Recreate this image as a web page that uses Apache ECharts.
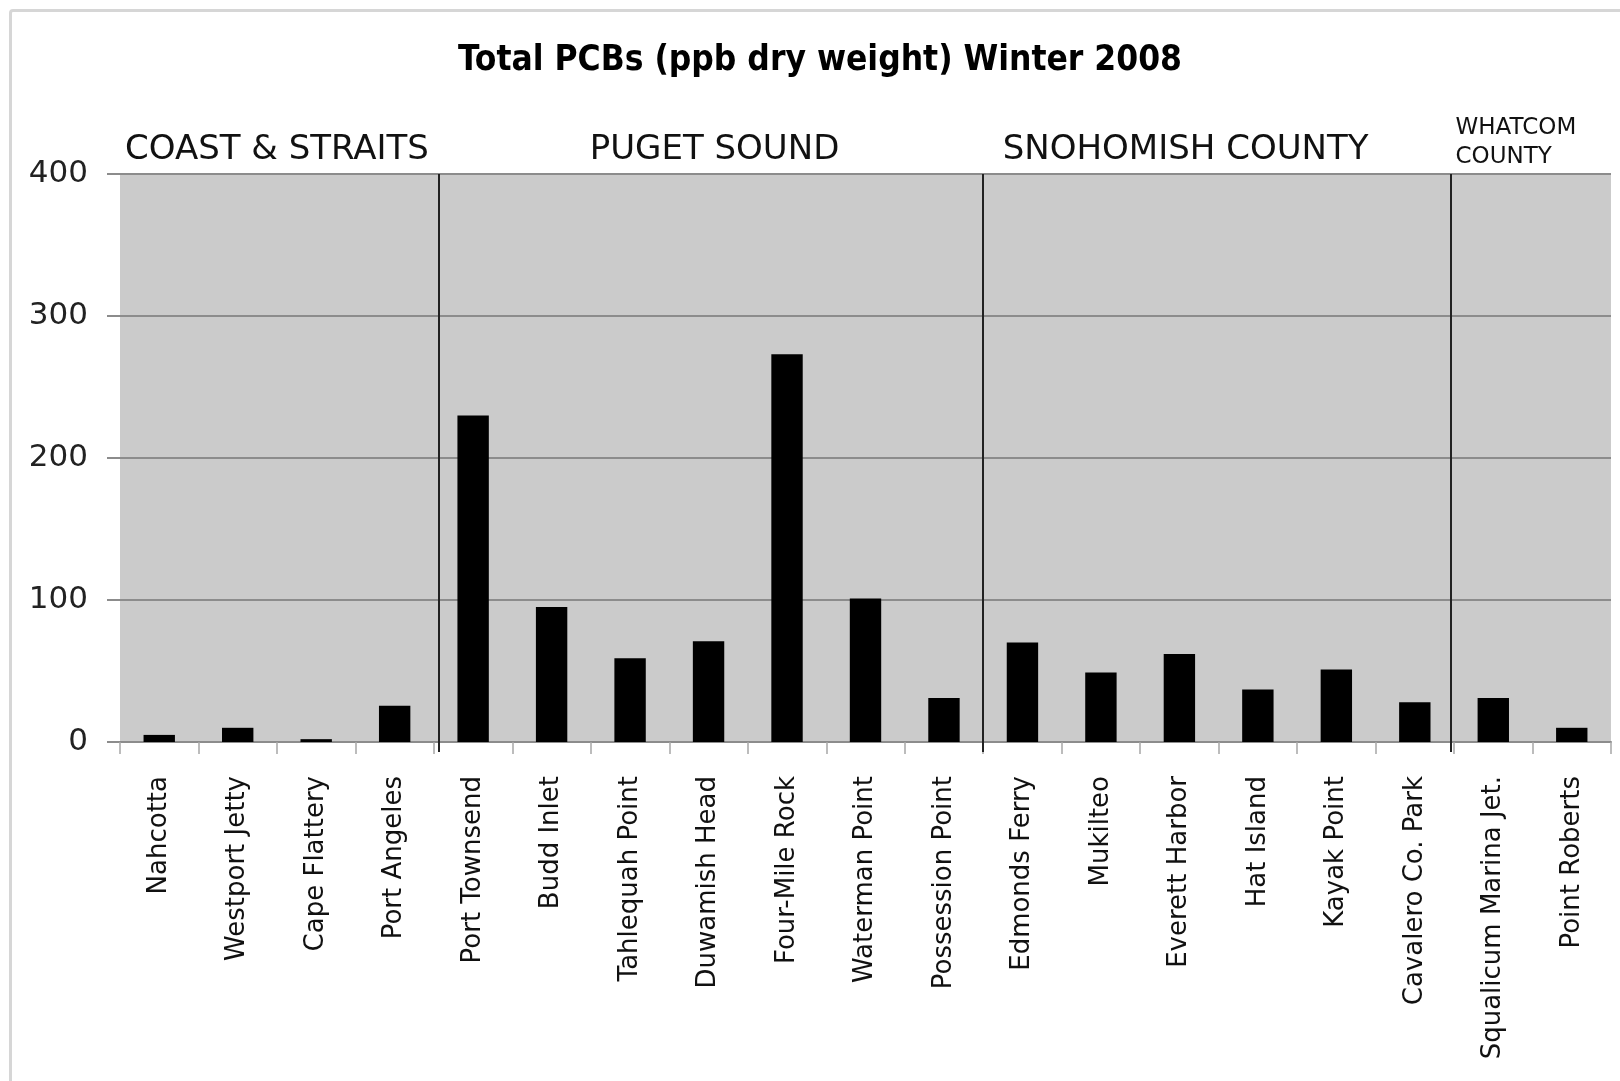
<!DOCTYPE html>
<html>
<head>
<meta charset="utf-8">
<title>Total PCBs Winter 2008</title>
<script src="https://cdn.jsdelivr.net/npm/echarts@6/dist/echarts.min.js"></script>
<style>
  html, body { margin: 0; padding: 0; background: #fff; overflow: hidden; }
  #frame {
    position: absolute; left: 9px; top: 9px; width: 1700px; height: 1200px;
    border: 3px solid #d6d6d6; border-radius: 4px; box-sizing: border-box;
  }
  #chart { position: absolute; left: 0; top: 0; width: 1620px; height: 1081px; }
</style>
</head>
<body>
<div id="frame"></div>
<div id="chart"></div>
<script>
// sites in plotting order
const sites = [
  'Nahcotta', 'Westport Jetty', 'Cape Flattery', 'Port Angeles',
  'Port Townsend', 'Budd Inlet', 'Tahlequah Point', 'Duwamish Head',
  'Four-Mile Rock', 'Waterman Point', 'Possession Point',
  'Edmonds Ferry', 'Mukilteo', 'Everett Harbor', 'Hat Island',
  'Kayak Point', 'Cavalero Co. Park',
  'Squalicum Marina Jet.', 'Point Roberts'
]
// total PCBs, ppb dry weight
const pcbValues = [5, 10, 2, 25.5, 230, 95, 59, 71, 273, 101, 31, 70, 49, 62, 37, 51, 28, 31, 10]

// regions: name, first site index, end index
const regionNames = ['COAST & STRAITS', 'PUGET SOUND', 'SNOHOMISH COUNTY', 'WHATCOM\nCOUNTY']
const regionStart = [0, 4, 11, 17]
const regionEnd = [4, 11, 17, 19]
// separator lines between regions (in site units)
const dividerAt = [4.06, 10.99, 16.96]

const yTicks = [0, 100, 200, 300, 400]

const axisFont = 'DejaVu Sans'

const chart = echarts.init(document.getElementById('chart'))

// small nudges so the region labels sit where the original put them
const regionLabelOffset = [[0, 0], [6, 0], [-33, 0], [-77, 3]]

chart.setOption({
  animation: false,
  title: {
    text: 'Total PCBs (ppb dry weight) Winter 2008',
    left: 453,
    top: 38,
    textStyle: {
      fontFamily: "'DejaVu Sans Condensed', 'DejaVu Sans', sans-serif",
      fontWeight: 'bold',
      fontSize: 35,
      color: '#000'
    }
  },
  grid: [
    {
      left: 120,
      right: 9,
      top: 174,
      bottom: 339,
      show: true,
      backgroundColor: '#cbcbcb',
      borderWidth: 0
    },
    {
      // same box, a little taller, for the divider lines
      left: 120,
      right: 9,
      top: 174,
      bottom: 329,
      show: false
    }
  ],
  xAxis: [
    {
      type: 'category',
      data: sites,
      axisLine: { lineStyle: { color: '#8c8c8c', width: 2 } },
      axisTick: { show: true, length: 12, lineStyle: { color: '#a6a6a6', width: 1.5 } },
      axisLabel: {
        rotate: 90,
        margin: 34,
        fontFamily: axisFont,
        fontSize: 26,
        color: '#111',
        interval: 0
      }
    },
    {
      // hidden helper axis for the region labels
      type: 'value',
      min: 0,
      max: sites.length,
      show: false
    },
    {
      type: 'value',
      gridIndex: 1,
      min: 0,
      max: sites.length,
      show: false
    }
  ],
  yAxis: [
    {
      type: 'value',
      min: yTicks[0],
      max: yTicks[yTicks.length - 1],
      interval: 100,
      axisLine: { show: false },
      axisTick: { show: true, length: 13, lineStyle: { color: '#8c8c8c', width: 2 } },
      splitLine: { lineStyle: { color: '#8c8c8c', width: 2 } },
      axisLabel: {
        margin: 32,
        fontFamily: axisFont,
        fontSize: 31,
        color: '#222'
      }
    },
    {
      type: 'value',
      gridIndex: 1,
      min: 0,
      max: 1,
      show: false
    }
  ],
  series: [
    {
      type: 'bar',
      data: pcbValues,
      barWidth: '40%',
      itemStyle: { color: '#000' }
    },
    {
      type: 'line',
      xAxisIndex: 1,
      data: [],
      clip: false,
      silent: true,
      markArea: {
        silent: true,
        itemStyle: { color: 'rgba(0,0,0,0)' },
        data: regionNames.map((name, i) => [
          {
            name: name,
            xAxis: regionStart[i],
            yAxis: 400,
            label: {
              show: true,
              position: 'top',
              distance: i === 3 ? 5 : 4,
              offset: regionLabelOffset[i],
              fontFamily: axisFont,
              fontSize: i === 3 ? 23 : 34,
              lineHeight: i === 3 ? 29 : 40,
              color: '#111',
              align: i === 3 ? 'left' : 'center'
            }
          },
          { xAxis: regionEnd[i], yAxis: 400 }
        ])
      }
    },
    {
      type: 'line',
      xAxisIndex: 2,
      yAxisIndex: 1,
      data: [[0, 0]],
      symbol: 'none',
      lineStyle: { opacity: 0 },
      silent: true,
      markLine: {
        silent: true,
        symbol: 'none',
        label: { show: false },
        lineStyle: { color: '#222', width: 2, type: 'solid' },
        data: dividerAt.map(x => ({ xAxis: x }))
      }
    }
  ]
})
</script>
</body>
</html>
